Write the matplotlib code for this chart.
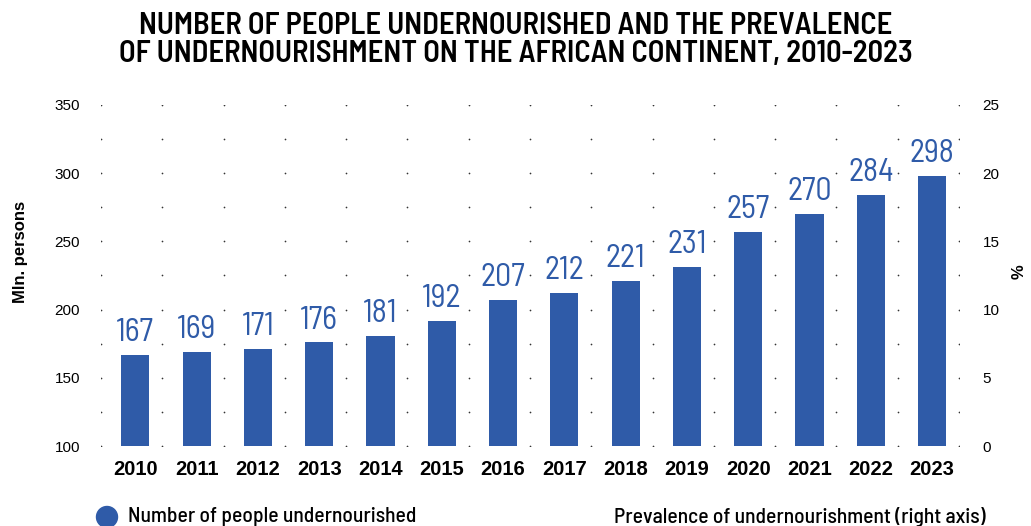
import matplotlib
matplotlib.use("Agg")
import matplotlib.pyplot as plt
import numpy as np
from matplotlib.patches import Ellipse

years = [str(y) for y in range(2010, 2024)]
undernourished = [167, 169, 171, 176, 181, 192, 207, 212, 221, 231, 257, 270, 284, 298]
left_ticks = [100, 150, 200, 250, 300, 350]
right_ticks = [0, 5, 10, 15, 20, 25]

cond = ["Barlow Semi Condensed", "DejaVu Sans"]
plain = ["Liberation Sans", "DejaVu Sans"]
blue = "#2f5ba8"

fig = plt.figure(figsize=(10.31, 5.26), dpi=100)
ax = fig.add_axes([101 / 1031, 1 - 446 / 526, 858 / 1031, 341 / 526])
x = np.arange(len(years))
ax.bar(x + 0.06, [v - 100 for v in undernourished], bottom=100, width=0.46, color=blue, zorder=3)
for xi, v in zip(x, undernourished):
    ax.text(xi + 0.06, v + 5, str(v), ha="center", va="bottom", color=blue,
            fontsize=23, family=cond)

ax.set_xlim(-0.5, len(years) - 0.5)
ax.set_ylim(100, 350)
ax.set_yticks(left_ticks)

# dotted grid: dots at category boundaries on every 25 step
gx = np.arange(-0.5, len(years), 1.0)
gy = np.arange(100, 351, 25)
GX, GY = np.meshgrid(gx, gy)
ax.scatter(GX.ravel(), GY.ravel(), s=1.5, color="#333333", zorder=1, linewidths=0)

ax.set_xticks(x + 0.06)
ax.set_xticklabels(years, fontsize=14.5, fontweight="bold", family=plain)
ax.tick_params(axis="x", length=0, pad=10)
ax.tick_params(axis="y", length=0, labelsize=11, pad=15)
for lab in ax.get_yticklabels():
    lab.set_family(plain)
for s in ax.spines.values():
    s.set_visible(False)

ax2 = ax.twinx()
ax2.set_ylim(0, 25)
ax2.set_yticks(right_ticks)
ax2.tick_params(axis="y", length=0, labelsize=11, pad=17)
for lab in ax2.get_yticklabels():
    lab.set_family(plain)
for s in ax2.spines.values():
    s.set_visible(False)

fig.text(21 / 1031, 1 - 252 / 526, "Mln. persons", rotation=90, ha="center", va="center",
         fontsize=12, fontweight="bold", family=plain)
fig.text(1019 / 1031, 1 - 272 / 526, "%", rotation=90, ha="center", va="center",
         fontsize=12, fontweight="bold", family=plain)

fig.text(0.5, 0.978, "NUMBER OF PEOPLE UNDERNOURISHED AND THE PREVALENCE\nOF UNDERNOURISHMENT ON THE AFRICAN CONTINENT, 2010-2023",
         ha="center", va="top", fontsize=22, family=cond, fontweight="semibold", linespacing=1.0)

fig.patches.append(Ellipse((107 / 1031, 1 - 517 / 526), 21 / 1031, 21 / 526,
                           transform=fig.transFigure, color=blue))
fig.text(128 / 1031, 1 - 517 / 526, "Number of people undernourished", ha="left", va="center",
         fontsize=15.5, family=cond, fontweight="medium")
fig.text(614 / 1031, 1 - 517 / 526, "Prevalence of undernourishment (right axis)", ha="left", va="center",
         fontsize=15.5, family=cond, fontweight="medium")

fig.savefig("out.png", dpi=100)
